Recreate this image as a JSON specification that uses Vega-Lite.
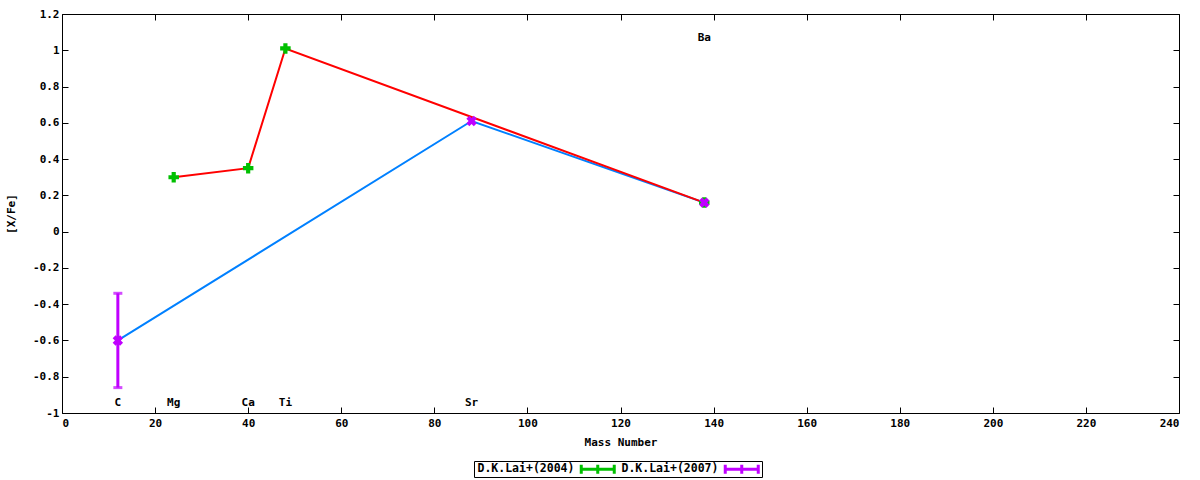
{
  "$schema": "https://vega.github.io/schema/vega-lite/v6.json",
  "description": "[X/Fe] against mass number, D.K.Lai 2004 and 2007",
  "width": 1117,
  "height": 399,
  "autosize": "none",
  "padding": {"left": 62, "top": 14, "right": 21, "bottom": 67},
  "config": {
    "background": "white",
    "view": {"stroke": "black", "strokeWidth": 1},
    "locale": {"number": {"decimal": ".", "thousands": ",", "grouping": [3], "currency": ["$", ""], "minus": "-"}},
    "font": "DejaVu Sans Mono",
    "axis": {
      "grid": false,
      "domain": false,
      "tickColor": "black",
      "tickSize": -6,
      "labelFont": "DejaVu Sans Mono",
      "labelFontWeight": "bold",
      "labelFontSize": 11,
      "labelColor": "black",
      "titleFont": "DejaVu Sans Mono",
      "titleFontWeight": "bold",
      "titleFontSize": 11,
      "titleColor": "black"
    }
  },
  "datasets": {
    "abund": [
      {"ref": "D.K.Lai+(2004)", "element": "Mg", "mass": 24, "xfe": 0.30},
      {"ref": "D.K.Lai+(2004)", "element": "Ca", "mass": 40, "xfe": 0.35},
      {"ref": "D.K.Lai+(2004)", "element": "Ti", "mass": 48, "xfe": 1.01},
      {"ref": "D.K.Lai+(2004)", "element": "Ba", "mass": 138, "xfe": 0.16},
      {"ref": "D.K.Lai+(2007)", "element": "C", "mass": 12, "xfe": -0.60, "lo": -0.86, "hi": -0.34},
      {"ref": "D.K.Lai+(2007)", "element": "Sr", "mass": 88, "xfe": 0.61},
      {"ref": "D.K.Lai+(2007)", "element": "Ba", "mass": 138, "xfe": 0.16}
    ],
    "labels": [
      {"element": "C", "mass": 12, "pos": -0.945},
      {"element": "Mg", "mass": 24, "pos": -0.945},
      {"element": "Ca", "mass": 40, "pos": -0.945},
      {"element": "Ti", "mass": 48, "pos": -0.945},
      {"element": "Sr", "mass": 88, "pos": -0.945},
      {"element": "Ba", "mass": 138, "pos": 1.065}
    ]
  },
  "data": {"name": "abund"},
  "resolve": {"axis": {"x": "independent", "y": "independent"}},
  "layer": [
    {
      "mark": {"type": "line", "color": "#0080ff", "strokeWidth": 2},
      "transform": [{"filter": "datum.ref === 'D.K.Lai+(2007)'"}],
      "encoding": {
        "x": {"field": "mass", "type": "quantitative", "scale": {"domain": [0, 240], "nice": false},
              "axis": {"title": "Mass Number", "format": "d", "values": [0, 20, 40, 60, 80, 100, 120, 140, 160, 180, 200, 220, 240], "labelPadding": 10, "titlePadding": 8}},
        "y": {"field": "xfe", "type": "quantitative", "scale": {"domain": [-1, 1.2], "nice": false},
              "axis": {"title": "[X/Fe]", "format": "~g", "values": [-1, -0.8, -0.6, -0.4, -0.2, 0, 0.2, 0.4, 0.6, 0.8, 1, 1.2], "labelPadding": 9, "titlePadding": 16}}
      }
    },
    {
      "mark": {"type": "line", "color": "#ff0000", "strokeWidth": 2},
      "transform": [{"filter": "datum.ref === 'D.K.Lai+(2004)'"}],
      "encoding": {
        "x": {"field": "mass", "type": "quantitative", "axis": {"orient": "top", "labels": false, "title": null, "values": [0, 20, 40, 60, 80, 100, 120, 140, 160, 180, 200, 220, 240]}},
        "y": {"field": "xfe", "type": "quantitative", "axis": {"orient": "right", "labels": false, "title": null, "values": [-1, -0.8, -0.6, -0.4, -0.2, 0, 0.2, 0.4, 0.6, 0.8, 1, 1.2]}}
      }
    },
    {
      "mark": {"type": "rule", "color": "#c000ff", "strokeWidth": 3},
      "transform": [{"filter": "isValid(datum.lo)"}],
      "encoding": {
        "x": {"field": "mass", "type": "quantitative", "axis": null},
        "y": {"field": "lo", "type": "quantitative", "axis": null},
        "y2": {"field": "hi"}
      }
    },
    {
      "mark": {"type": "tick", "color": "#c000ff", "orient": "horizontal", "size": 9, "thickness": 3},
      "transform": [{"filter": "isValid(datum.lo)"}, {"fold": ["lo", "hi"], "as": ["end", "val"]}],
      "encoding": {
        "x": {"field": "mass", "type": "quantitative", "axis": null},
        "y": {"field": "val", "type": "quantitative", "axis": null}
      }
    },
    {
      "mark": {"type": "point", "shape": "cross", "filled": true, "size": 110, "opacity": 1},
      "encoding": {
        "x": {"field": "mass", "type": "quantitative", "axis": null},
        "y": {"field": "xfe", "type": "quantitative", "axis": null},
        "angle": {"condition": {"test": "datum.ref === 'D.K.Lai+(2007)'", "value": 45}, "value": 0},
        "color": {
          "field": "ref", "type": "nominal",
          "scale": {"domain": ["D.K.Lai+(2004)", "D.K.Lai+(2007)"], "range": ["#00c000", "#c000ff"]},
          "legend": {
            "title": null,
            "orient": "none",
            "direction": "horizontal",
            "legendX": 412,
            "legendY": 447,
            "strokeColor": "black",
            "padding": 2,
            "symbolType": "M-3.6,-0.3H3.6V0.3H-3.6Z M-3.6,-0.9H-3.0V0.9H-3.6Z M3.0,-0.9H3.6V0.9H3.0Z M-0.3,-0.9H0.3V0.9H-0.3Z",
            "symbolSize": 100,
            "symbolOffset": 116,
            "symbolOpacity": 1,
            "symbolStrokeWidth": 0,
            "labelFont": "DejaVu Sans Mono",
            "labelFontWeight": "bold",
            "labelFontSize": 11.5,
            "labelColor": "black",
            "labelOffset": -126,
            "columnPadding": 4
          }
        }
      }
    },
    {
      "data": {"name": "labels"},
      "mark": {"type": "text", "font": "DejaVu Sans Mono", "fontWeight": "bold", "fontSize": 11, "color": "black", "baseline": "middle"},
      "encoding": {
        "x": {"field": "mass", "type": "quantitative", "axis": null},
        "y": {"field": "pos", "type": "quantitative", "axis": null},
        "text": {"field": "element"}
      }
    }
  ]
}
